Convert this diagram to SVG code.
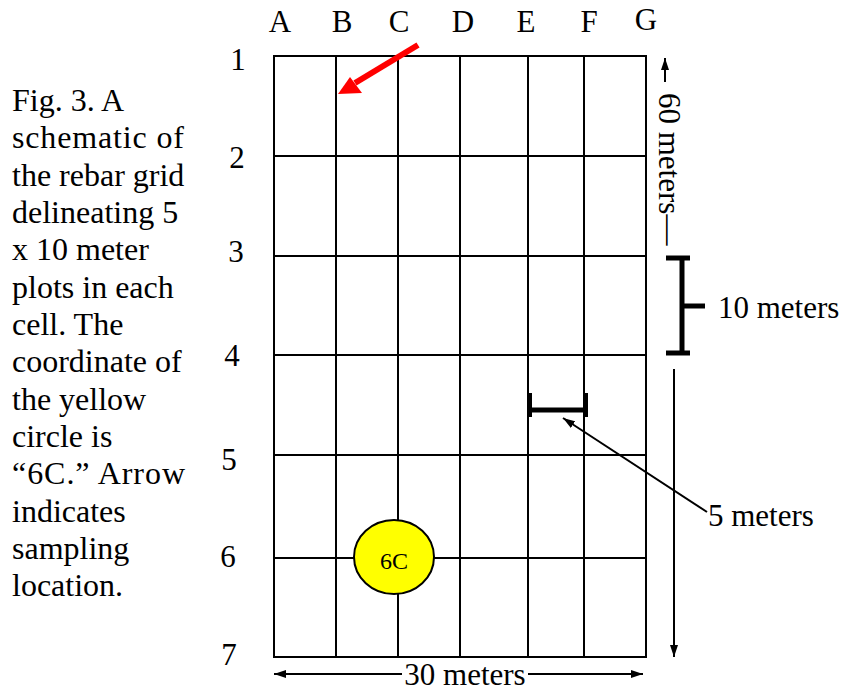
<svg xmlns="http://www.w3.org/2000/svg" width="843" height="692" viewBox="0 0 843 692">
<defs>
<style>
text{font-family:"Liberation Serif","Times New Roman",serif;fill:#000}
.lbl{font-size:31px}
.cap{font-size:32px}
.grid line,.grid rect{stroke:#000;stroke-width:2;fill:none}
.conn line{stroke:#000;stroke-width:2}
.thick{stroke:#000;stroke-width:5;fill:none}
</style>
<marker id="ah" viewBox="0 0 12 8" refX="12" refY="4" markerWidth="12" markerHeight="8" markerUnits="userSpaceOnUse" orient="auto">
<path d="M0,0 L12,4 L0,8 Z" fill="#000"/>
</marker>
</defs>
<rect width="843" height="692" fill="#fff"/>

<g id="caption" class="cap">
<text x="12" y="111">Fig. 3. A</text>
<text x="12" y="148" textLength="172" lengthAdjust="spacing">schematic of</text>
<text x="12" y="186">the rebar grid</text>
<text x="12" y="223">delineating 5</text>
<text x="12" y="260">x 10 meter</text>
<text x="12" y="298">plots in each</text>
<text x="12" y="335">cell.  The</text>
<text x="12" y="372">coordinate of</text>
<text x="12" y="410">the yellow</text>
<text x="12" y="447">circle is</text>
<text x="12" y="484" textLength="173" lengthAdjust="spacing">“6C.”  Arrow</text>
<text x="12" y="522">indicates</text>
<text x="12" y="559">sampling</text>
<text x="12" y="596">location.</text>
</g>

<g id="grid" class="grid">
<rect x="274" y="56" width="372" height="601"/>
<line x1="336" y1="56" x2="336" y2="657"/>
<line x1="398" y1="56" x2="398" y2="657"/>
<line x1="460" y1="56" x2="460" y2="657"/>
<line x1="528" y1="56" x2="528" y2="657"/>
<line x1="584" y1="56" x2="584" y2="657"/>
<line x1="274" y1="156" x2="646" y2="156"/>
<line x1="274" y1="256" x2="646" y2="256"/>
<line x1="274" y1="355" x2="646" y2="355"/>
<line x1="274" y1="455" x2="646" y2="455"/>
<line x1="274" y1="558" x2="646" y2="558"/>
</g>

<g id="col-labels" class="lbl" text-anchor="middle">
<text x="280" y="32">A</text>
<text x="342" y="32">B</text>
<text x="399" y="32">C</text>
<text x="463" y="32">D</text>
<text x="526" y="32">E</text>
<text x="589" y="32">F</text>
<text x="646" y="30">G</text>
</g>

<g id="row-labels" class="lbl" text-anchor="middle">
<text x="238" y="70">1</text>
<text x="237" y="168">2</text>
<text x="236" y="262">3</text>
<text x="232" y="366">4</text>
<text x="229" y="470">5</text>
<text x="228" y="567">6</text>
<text x="229" y="665">7</text>
</g>

<g id="circle-6C">
<ellipse cx="394" cy="557" rx="40" ry="37" fill="#ffff00" stroke="#000" stroke-width="2"/>
<text x="394" y="569" text-anchor="middle" font-size="24">6C</text>
</g>

<g id="sampling-arrow">
<line x1="418" y1="45" x2="355" y2="83" stroke="#ff0000" stroke-width="6"/>
<path d="M338,94 L350,77 L362,93 Z" fill="#ff0000"/>
</g>

<g id="bracket-10m">
<line class="thick" x1="682" y1="258" x2="682" y2="354"/>
<line class="thick" x1="666" y1="258" x2="690" y2="258"/>
<line class="thick" x1="666" y1="353" x2="690" y2="353"/>
<line class="thick" x1="682" y1="306" x2="705" y2="306"/>
<text class="lbl" x="718" y="318">10 meters</text>
</g>

<g id="bracket-5m">
<line class="thick" x1="530" y1="410" x2="587" y2="410"/>
<line stroke="#000" stroke-width="4" x1="530" y1="393" x2="530" y2="417"/>
<line stroke="#000" stroke-width="4" x1="586" y1="393" x2="586" y2="417"/>
<text class="lbl" x="708" y="526">5 meters</text>
</g>

<g id="dim-60m">
<text class="lbl" transform="translate(659,93) rotate(90)">60 meters—</text>
</g>

<g id="dim-30m">
<text class="lbl" x="465" y="685" text-anchor="middle">30 meters</text>
</g>

<g id="connectors" class="conn">
<line x1="665" y1="82" x2="665" y2="58" marker-end="url(#ah)"/>
<line x1="674" y1="369" x2="674" y2="657" marker-end="url(#ah)"/>
<line x1="402" y1="674" x2="274" y2="674" marker-end="url(#ah)"/>
<line x1="528" y1="674" x2="643" y2="674" marker-end="url(#ah)"/>
<line x1="707" y1="512" x2="563" y2="418" marker-end="url(#ah)"/>
</g>
</svg>
